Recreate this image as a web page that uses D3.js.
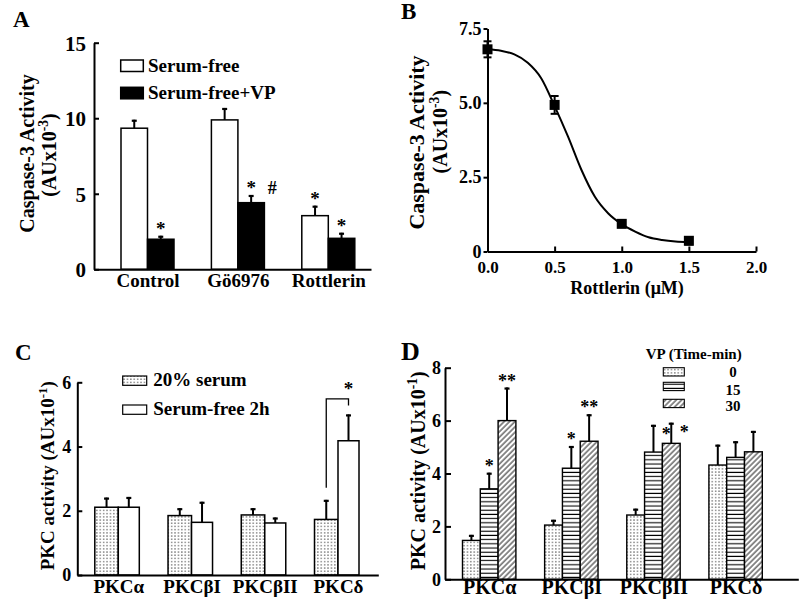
<!DOCTYPE html>
<html><head><meta charset="utf-8">
<script src="https://cdn.jsdelivr.net/npm/d3@7"></script>
<style>
body{margin:0;background:#fff}
svg{display:block}
text{font-family:"Liberation Serif","Times New Roman",serif;font-weight:bold;fill:#000}
</style>
</head><body>
<svg id="c" width="800" height="608"></svg>
<script>
// ---------------- DATA ----------------
// Panel A
const catsA = ["Control", "Gö6976", "Rottlerin"];
const seriesA = ["Serum-free", "Serum-free+VP"];
const freeA = [9.34, 9.89, 3.55];
const freeErrA = [0.56, 0.79, 0.66];
const vpA = [1.99, 4.41, 2.05];
const vpErrA = [0.23, 0.51, 0.37];
const ticksA = [0, 5, 10, 15];
const marksA = [["Control", 1, "*"], ["Gö6976", 1, "*#"], ["Rottlerin", 0, "*"], ["Rottlerin", 1, "*"]];

// Panel B
const doseB = [0, 0.5, 1.0, 1.5];
const actB = [6.80, 4.93, 0.93, 0.36];
const errB = [0.27, 0.30, 0.08, 0.12];
const fitXB = [0, 0.1, 0.2, 0.3, 0.4, 0.5, 0.6, 0.7, 0.8, 0.9, 1.0, 1.1, 1.2, 1.3, 1.4, 1.5];
const fitYB = [6.80, 6.75, 6.63, 6.35, 5.83, 4.89, 3.86, 2.74, 1.84, 1.28, 0.92, 0.67, 0.48, 0.39, 0.34, 0.32];
const yTicksB = [0, 2.5, 5.0, 7.5];
const yTickLabelsB = ["0", "2.5", "5.0", "7.5"];
const xTicksB = [0, 0.5, 1.0, 1.5, 2.0];

// Panel C
const catsC = ["PKCα", "PKCβI", "PKCβII", "PKCδ"];
const seriesC = ["20% serum", "Serum-free 2h"];
const serumC = [2.11, 1.85, 1.87, 1.73];
const serumErrC = [0.30, 0.23, 0.21, 0.61];
const freeC = [2.11, 1.64, 1.62, 4.18];
const freeErrC = [0.32, 0.64, 0.17, 0.82];
const ticksC = [0, 2, 4, 6];
const bracketC = ["PKCδ", "*"];

// Panel D
const catsD = ["PKCα", "PKCβI", "PKCβII", "PKCδ"];
const timesD = ["0", "15", "30"];
const t0D = [1.47, 2.05, 2.43, 4.32];
const t0ErrD = [0.21, 0.20, 0.24, 0.77];
const t15D = [3.42, 4.20, 4.81, 4.61];
const t15ErrD = [0.61, 0.84, 1.03, 0.61];
const t30D = [6.00, 5.22, 5.14, 4.82];
const t30ErrD = [1.25, 1.02, 0.78, 0.79];
const ticksD = [0, 2, 4, 6, 8];
const marksD = [["PKCα", 1, "*", "top"], ["PKCα", 2, "**", "top"], ["PKCβI", 1, "*", "top"], ["PKCβI", 2, "**", "top"], ["PKCβII", 1, "*", "right"], ["PKCβII", 2, "*", "right"]];

// ---------------- DRAWING ----------------
const FONT = '"Liberation Serif","Times New Roman",serif';
const svg = d3.select("#c");
svg.append("rect").attr("width", 800).attr("height", 608).attr("fill", "#fff");
const defs = svg.append("defs");

const pDots = defs.append("pattern").attr("id", "dots").attr("patternUnits", "userSpaceOnUse").attr("width", 3.4).attr("height", 3.2);
pDots.append("rect").attr("width", 3.4).attr("height", 3.2).attr("fill", "#fff");
pDots.append("rect").attr("x", 1.1).attr("y", 1.1).attr("width", 1.1).attr("height", 1.1).attr("fill", "#222");

const pHor = defs.append("pattern").attr("id", "hlines").attr("patternUnits", "userSpaceOnUse").attr("width", 4).attr("height", 4.2);
pHor.append("rect").attr("width", 4).attr("height", 4.2).attr("fill", "#fff");
pHor.append("line").attr("x1", 0).attr("x2", 4).attr("y1", 2).attr("y2", 2).attr("stroke", "#000").attr("stroke-width", 1.1);

const pHatch = defs.append("pattern").attr("id", "hatch").attr("patternUnits", "userSpaceOnUse").attr("width", 3.8).attr("height", 3.8).attr("patternTransform", "rotate(45)");
pHatch.append("rect").attr("width", 3.8).attr("height", 3.8).attr("fill", "#fff");
pHatch.append("line").attr("x1", 1).attr("x2", 1).attr("y1", 0).attr("y2", 3.8).attr("stroke", "#000").attr("stroke-width", 0.9);

function styleAxis(g, fs) {
  g.attr("font-family", FONT).attr("font-size", fs).attr("font-weight", "bold");
  g.select(".domain").attr("stroke", "#000").attr("stroke-width", 2);
  g.selectAll(".tick line").attr("stroke", "#000").attr("stroke-width", 2);
  g.selectAll(".tick text").attr("fill", "#000");
}
function plainLine(g, x0, x1, y) {
  const s = d3.scaleLinear().range([x0, x1]);
  const a = g.append("g").attr("transform", `translate(0,${y})`).call(d3.axisBottom(s).tickValues([]).tickSizeOuter(0));
  styleAxis(a, 12);
  return a;
}
function vLabel(g, x, y, main, sup, tail, fs) {
  const t = g.append("text").attr("transform", `translate(${x},${y}) rotate(-90)`).attr("text-anchor", "middle").attr("font-size", fs);
  t.append("tspan").text(main);
  if (sup) {
    t.append("tspan").attr("font-size", fs * 0.68).attr("dy", -fs * 0.38).text(sup);
    t.append("tspan").attr("dy", fs * 0.38).text(tail);
  }
  return t;
}
function errBars(g, data, cap) {
  const e = g.append("g").attr("stroke", "#000");
  e.selectAll("line.v").data(data).join("line").attr("class", "v")
    .attr("x1", d => d.x).attr("x2", d => d.x).attr("y1", d => d.y0).attr("y2", d => d.y1).attr("stroke-width", 2);
  e.selectAll("line.c").data(data).join("line").attr("class", "c")
    .attr("x1", d => d.x - cap / 2).attr("x2", d => d.x + cap / 2).attr("y1", d => d.y1 + 1).attr("y2", d => d.y1 + 1).attr("stroke-width", 2.2);
}
function star(g, x, cy, txt, fs, anchor) {
  g.append("text").attr("x", x).attr("y", cy + fs * 0.5).attr("text-anchor", anchor || "middle").attr("font-size", fs).attr("fill", "#222").text(txt);
}

// ===== Panel A =====
{
  const g = svg.append("g");
  const y = d3.scaleLinear().domain([0, 15]).range([269.3, 42.7]);
  const x = d3.scalePoint().domain(catsA).range([147.5, 328.3]);
  const bw = 26.5;
  const vals = [freeA, vpA], errs = [freeErrA, vpErrA];
  const fills = ["#fff", "#000"];
  const bars = [];
  vals.forEach((arr, s) => arr.forEach((v, i) => {
    const left = x(catsA[i]) + (s === 0 ? -bw : 0);
    bars.push({ c: catsA[i], s, v, e: errs[s][i], left, cx: left + bw / 2 });
  }));
  g.selectAll("rect.bar").data(bars).join("rect").attr("class", "bar")
    .attr("x", d => d.left).attr("width", bw).attr("y", d => y(d.v)).attr("height", d => y(0) - y(d.v))
    .attr("fill", d => fills[d.s]).attr("stroke", "#000").attr("stroke-width", 1.5);
  errBars(g, bars.map(b => ({ x: b.cx, y0: y(b.v), y1: y(b.v + b.e) })), 5);
  marksA.forEach(([c, s, m]) => {
    const b = bars.find(d => d.c === c && d.s === s);
    const cy = y(b.v + b.e) - 10;
    if (m === "*#") {
      star(g, b.cx, cy, "*", 19);
      star(g, b.cx + 21, cy, "#", 18);
    } else star(g, b.cx, cy, m, 19);
  });
  const ya = g.append("g").attr("transform", "translate(94,0)")
    .call(d3.axisLeft(y).tickValues(ticksA).tickFormat(d3.format("d")).tickSize(-5).tickSizeOuter(0).tickPadding(8));
  styleAxis(ya, 21);
  ya.selectAll(".tick text").attr("dy", "0.36em");
  plainLine(g, 94, 371, 269.3);
  const xa = g.append("g").attr("transform", "translate(0,269.3)").call(d3.axisBottom(x).tickSize(0));
  styleAxis(xa, 19);
  xa.select(".domain").remove();
  xa.selectAll(".tick text").attr("dy", null).attr("y", 18);
  const lg = g.append("g");
  seriesA.forEach((s, i) => {
    lg.append("rect").attr("x", 120.7).attr("y", 60 + i * 27.3).attr("width", 22.6).attr("height", 11.5)
      .attr("fill", fills[i]).attr("stroke", "#000").attr("stroke-width", 1.5);
    lg.append("text").attr("x", 148).attr("y", 72 + i * 27).attr("font-size", 19).text(s);
  });
  vLabel(g, 33.5, 153.5, "Caspase-3 Activity", null, null, 20);
  vLabel(g, 55.5, 155, "(AUx10", "-3", ")", 20);
  g.append("text").attr("x", 13).attr("y", 27).attr("font-size", 23).text("A");
}

// ===== Panel B =====
{
  const g = svg.append("g");
  const x = d3.scaleLinear().domain([0, 2]).range([487.5, 756]);
  const y = d3.scaleLinear().domain([0, 7.5]).range([251.5, 28.5]);
  const line = d3.line().x(d => x(d[0])).y(d => y(d[1])).curve(d3.curveMonotoneX);
  g.append("path").datum(fitXB.map((v, i) => [v, fitYB[i]])).attr("d", line)
    .attr("fill", "none").attr("stroke", "#000").attr("stroke-width", 2);
  const pts = doseB.map((d, i) => ({ x: x(d), y: y(actB[i]), lo: y(actB[i] - errB[i]), hi: y(actB[i] + errB[i]) }));
  const e = g.append("g").attr("stroke", "#000").attr("stroke-width", 2);
  pts.forEach(p => {
    e.append("line").attr("x1", p.x).attr("x2", p.x).attr("y1", p.lo).attr("y2", p.hi);
    e.append("line").attr("x1", p.x - 4).attr("x2", p.x + 4).attr("y1", p.lo).attr("y2", p.lo);
    e.append("line").attr("x1", p.x - 4).attr("x2", p.x + 4).attr("y1", p.hi).attr("y2", p.hi);
  });
  g.selectAll("rect.pt").data(pts).join("rect").attr("class", "pt")
    .attr("x", d => d.x - 5).attr("y", d => d.y - 5).attr("width", 10).attr("height", 10).attr("fill", "#000");
  const ya = g.append("g").attr("transform", "translate(487.5,0)")
    .call(d3.axisLeft(y).tickValues(yTicksB).tickFormat((d, i) => yTickLabelsB[i]).tickSize(4).tickSizeOuter(0).tickPadding(2));
  styleAxis(ya, 18);
  const xa = g.append("g").attr("transform", "translate(0,251.5)")
    .call(d3.axisBottom(x).tickValues(xTicksB).tickFormat(d3.format(".1f")).tickSize(-5).tickSizeOuter(0).tickPadding(9));
  styleAxis(xa, 17);
  g.append("text").attr("x", 627).attr("y", 294).attr("text-anchor", "middle").attr("font-size", 18).text("Rottlerin (μM)");
  vLabel(g, 424, 142.5, "Caspase-3 Activity", null, null, 22);
  vLabel(g, 446.7, 131.7, "(AUx10", "-3", ")", 20);
  g.append("text").attr("x", 401).attr("y", 19).attr("font-size", 23).text("B");
}

// ===== Panel C =====
{
  const g = svg.append("g");
  const y = d3.scaleLinear().domain([0, 6]).range([575, 382.3]);
  const x = d3.scalePoint().domain(catsC).range([118.3, 338]);
  const widths = [23.5, 21];
  const vals = [serumC, freeC], errs = [serumErrC, freeErrC];
  const fills = ["url(#dots)", "#fff"];
  const bars = [];
  vals.forEach((arr, s) => arr.forEach((v, i) => {
    const left = s === 0 ? x(catsC[i]) - widths[0] : x(catsC[i]);
    bars.push({ c: catsC[i], s, v, e: errs[s][i], left, w: widths[s], cx: left + widths[s] / 2 });
  }));
  g.selectAll("rect.bar").data(bars).join("rect").attr("class", "bar")
    .attr("x", d => d.left).attr("width", d => d.w).attr("y", d => y(d.v)).attr("height", d => y(0) - y(d.v))
    .attr("fill", d => fills[d.s]).attr("stroke", "#000").attr("stroke-width", 1.5);
  errBars(g, bars.map(b => ({ x: b.cx, y0: y(b.v), y1: y(b.v + b.e) })), 5);
  const bl = bars.find(d => d.c === bracketC[0] && d.s === 0), br = bars.find(d => d.c === bracketC[0] && d.s === 1);
  const tl = y(bl.v + bl.e), tr = y(br.v + br.e);
  const top = Math.min(tl, tr) - 15.5;
  g.append("path").attr("d", `M${bl.cx},${tl - 12}V${top}H${br.cx}V${tr - 9}`)
    .attr("fill", "none").attr("stroke", "#000").attr("stroke-width", 1.3);
  star(g, br.cx, top - 13, bracketC[1], 19);
  const ya = g.append("g").attr("transform", "translate(77.3,0)")
    .call(d3.axisLeft(y).tickValues(ticksC).tickFormat(d3.format("d")).tickSize(-5).tickSizeOuter(0).tickPadding(6));
  styleAxis(ya, 18);
  plainLine(g, 77.3, 378.3, 575);
  const xa = g.append("g").attr("transform", "translate(0,575)").call(d3.axisBottom(x).tickSize(0));
  styleAxis(xa, 19);
  xa.select(".domain").remove();
  xa.selectAll(".tick text").attr("dy", null).attr("y", 18.3);
  const lg = g.append("g");
  seriesC.forEach((s, i) => {
    lg.append("rect").attr("x", 122.7).attr("y", 376 + i * 29).attr("width", 24).attr("height", 9.3)
      .attr("fill", fills[i]).attr("stroke", "#000").attr("stroke-width", 1.2);
    lg.append("text").attr("x", 153.3).attr("y", 386 + i * 29).attr("font-size", 19).text(s);
  });
  vLabel(g, 54, 475.8, "PKC activity (AUx10", "-1", ")", 19);
  g.append("text").attr("x", 15).attr("y", 360).attr("font-size", 23).text("C");
}

// ===== Panel D =====
{
  const g = svg.append("g");
  const y = d3.scaleLinear().domain([0, 8]).range([579.3, 367.7]);
  const x = d3.scalePoint().domain(catsD).range([489.2, 735.6]);
  const bw = 17.8;
  const vals = [t0D, t15D, t30D], errs = [t0ErrD, t15ErrD, t30ErrD];
  const fills = ["url(#dots)", "url(#hlines)", "url(#hatch)"];
  const bars = [];
  vals.forEach((arr, s) => arr.forEach((v, i) => {
    const left = x(catsD[i]) + (s - 1.5) * bw;
    bars.push({ c: catsD[i], s, v, e: errs[s][i], left, cx: left + bw / 2 });
  }));
  g.selectAll("rect.bar").data(bars).join("rect").attr("class", "bar")
    .attr("x", d => d.left).attr("width", bw).attr("y", d => y(d.v)).attr("height", d => y(0) - y(d.v))
    .attr("fill", d => fills[d.s]).attr("stroke", "#000").attr("stroke-width", 1.4);
  errBars(g, bars.map(b => ({ x: b.cx, y0: y(b.v), y1: y(b.v + b.e) })), 5);
  marksD.forEach(([c, s, m, pos]) => {
    const b = bars.find(d => d.c === c && d.s === s);
    const et = y(b.v + b.e);
    if (pos === "right") star(g, b.left + bw + 4, et + 6, m, 18);
    else star(g, b.cx, et - 10, m, 18);
  });
  const ya = g.append("g").attr("transform", "translate(445,0)")
    .call(d3.axisLeft(y).tickValues(ticksD).tickFormat(d3.format("d")).tickSize(-6).tickSizeOuter(0).tickPadding(4));
  styleAxis(ya, 18);
  plainLine(g, 445, 798.3, 579.3);
  const xa = g.append("g").attr("transform", "translate(0,579.3)").call(d3.axisBottom(x).tickSize(0));
  styleAxis(xa, 20);
  xa.select(".domain").remove();
  xa.selectAll(".tick text").attr("dy", null).attr("y", 14.5);
  const lg = g.append("g");
  lg.append("text").attr("x", 741.7).attr("y", 359).attr("text-anchor", "end").attr("font-size", 15).text("VP (Time-min)");
  timesD.forEach((t, i) => {
    lg.append("rect").attr("x", 663.3).attr("y", [367.7, 382.3, 399.3][i]).attr("width", 21).attr("height", 8.3)
      .attr("fill", fills[i]).attr("stroke", "#000").attr("stroke-width", 1.1);
    lg.append("text").attr("x", 733).attr("y", [376.5, 395, 411][i]).attr("text-anchor", "middle").attr("font-size", 15).text(t);
  });
  vLabel(g, 425, 470.8, "PKC activity (AUx10", "-1", ")", 20);
  g.append("text").attr("x", 401).attr("y", 360).attr("font-size", 26).text("D");
}
</script>
</body></html>
